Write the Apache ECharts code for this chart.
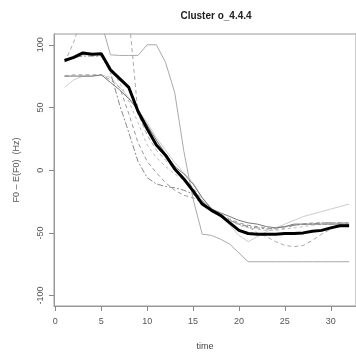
<!DOCTYPE html>
<html>
<head>
<meta charset="utf-8">
<script src="https://cdn.jsdelivr.net/npm/echarts@6/dist/echarts.min.js"></script>
<style>
  html, body { margin: 0; padding: 0; background: #fff; }
  #main { width: 356px; height: 356px; }
</style>
</head>
<body>
<div id="main"></div>
<script>
// time steps 1..32
const times = [];
for (let t = 1; t <= 32; t++) times.push(t);

const xTicks = [0, 5, 10, 15, 20, 25, 30];
const yTicks = [-100, -50, 0, 50, 100];

// cluster mean (thick black)
const meanLine = [87.5, 90, 93.5, 92.5, 92.8, 80, 73, 66, 47, 33, 20, 12, 1, -7, -16.5, -27,
  -32, -36, -42, -48, -50.5, -51, -51, -51, -50.5, -50.5, -50, -48.7, -48, -46, -44.3, -44.3];

// individual contours
const contourA = [130, 135, 135, 130, 118, 92, 91.5, 91.5, 91.5, 100, 100, 86, 62, 15, -23, -51,
  -52, -55, -59, -66, -73, -73, -73, -73, -73, -73, -73, -73, -73, -73, -73, -73];
const contourB = [75, 75, 75, 75, 76, 70, 64, 57, 48, 36, 24, 13, 3, -3, -11, -22,
  -31, -34, -37, -40, -42, -43, -45, -46, -45, -43, -43, -43, -43, -43, -43, -43];
const contourC = [66, 72, 75, 75, 76, 74, 66, 58, 48, 38, 26, 16, 6, -2, -10, -22,
  -30, -36, -44, -52, -57, -53, -49, -46, -43, -40, -37, -35, -33, -31, -29, -27];
const contourD = [86, 102, 125, 128, 128, 126, 125, 124, 45, 28, 16, 8, 1, -6, -14, -24,
  -32, -37, -40, -43, -45, -50, -53, -57, -60, -61, -60, -56, -51, -47, -44, -43];
const contourE = [88, 90, 91, 91, 91, 78, 52, 30, 7, -6, -11, -13, -14, -16, -19, -25,
  -32, -36, -40, -43, -45, -46, -47, -46, -45, -44, -43, -43, -42, -42, -42, -42];
const contourF = [75, 76, 76, 76, 76, 72, 66, 45, 22, 7, -2, -10, -16, -20, -22, -26,
  -31, -35, -39, -42, -44, -45, -46, -47, -46, -44, -43, -42, -42, -42, -42, -42];
const contourG = [88, 89, 92, 92, 92, 80, 70, 55, 38, 20, 10, 3, -3, -8, -14, -24,
  -31, -36, -40, -44, -46, -47, -48, -48, -47, -46, -45, -44, -43, -43, -42, -42];

function pairs(vals) {
  return vals.map((v, i) => [times[i], v]);
}

function thin(name, vals, color, type) {
  return {
    name: name,
    type: "line",
    data: pairs(vals),
    symbol: "none",
    silent: true,
    lineStyle: { color: color, width: 1, type: type },
  };
}

const chart = echarts.init(document.getElementById("main"));

const option = {
  animation: false,
  textStyle: { fontFamily: "Liberation Sans" },
  title: {
    text: "Cluster o_4.4.4",
    left: 211,
    top: 6,
    textAlign: "center",
    textStyle: { fontSize: 10, fontWeight: "bold", color: "#222" },
  },
  grid: {
    left: 54,
    right: -3,
    top: 34,
    bottom: 46,
    show: true,
    borderColor: "#999",
    borderWidth: 1,
  },
  xAxis: {
    type: "value",
    min: -0.15,
    max: 32.75,
    name: "time",
    nameLocation: "middle",
    nameGap: 36,
    nameTextStyle: { fontSize: 9, color: "#444" },
    axisLine: { show: true, onZero: false, lineStyle: { color: "#999" } },
    axisTick: { show: true, customValues: xTicks, length: 5, lineStyle: { color: "#888" } },
    axisLabel: { customValues: xTicks, fontSize: 9, color: "#555", margin: 11 },
    splitLine: { show: false },
  },
  yAxis: {
    type: "value",
    min: -108.3,
    max: 108.6,
    name: "F0 \u2013 E(F0)  (Hz)",
    nameLocation: "middle",
    nameGap: 33,
    nameTextStyle: { fontSize: 9, color: "#555" },
    axisLine: { show: true, onZero: false, lineStyle: { color: "#999" } },
    axisTick: { show: true, customValues: yTicks, length: 5, lineStyle: { color: "#888" } },
    axisLabel: { customValues: yTicks, fontSize: 9, color: "#555", rotate: 90, margin: 9 },
    splitLine: { show: false },
  },
  series: [
    thin("A", contourA, "#aaa", "solid"),
    thin("C", contourC, "#ccc", "solid"),
    thin("D", contourD, "#aaa", [4, 3]),
    thin("E", contourE, "#888", [6, 2, 2, 2]),
    thin("F", contourF, "#999", [4, 3]),
    thin("G", contourG, "#bbb", [3, 3]),
    thin("B", contourB, "#777", "solid"),
    {
      name: "mean",
      type: "line",
      data: pairs(meanLine),
      symbol: "none",
      silent: true,
      lineStyle: { color: "#000", width: 3 },
    },
  ],
};
chart.setOption(option);
</script>
</body>
</html>
